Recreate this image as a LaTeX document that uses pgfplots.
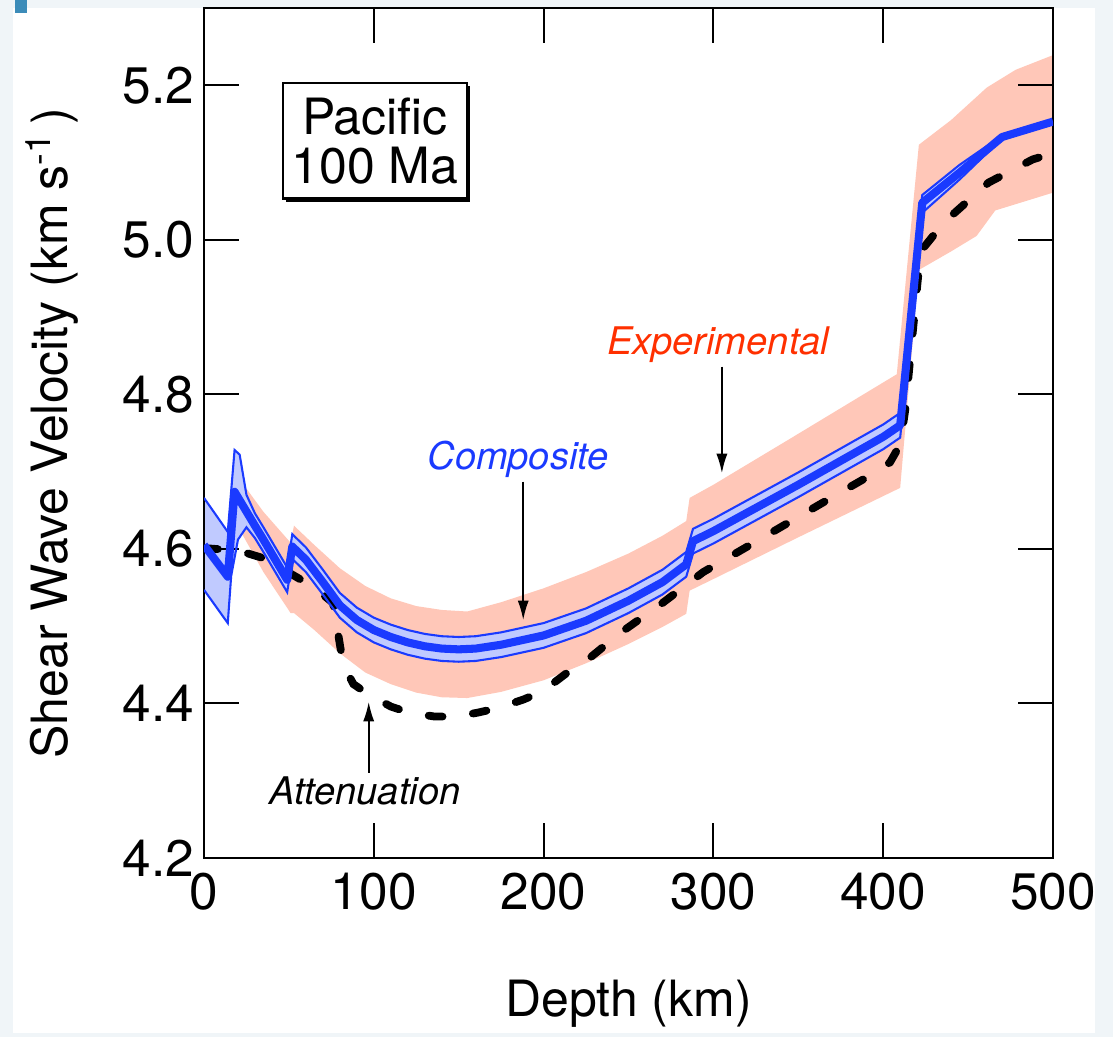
\documentclass[border=0pt]{standalone}
\usepackage{fontspec}
\setmainfont{TeX Gyre Heros}
\usepackage{pgfplots}
\usepackage{pgfplotstable}
\pgfplotsset{compat=1.18}
\usepgfplotslibrary{fillbetween}
\usetikzlibrary{arrows.meta,shadows}
\definecolor{compblue}{RGB}{26,58,255}
\definecolor{bandblue}{RGB}{192,202,255}
\definecolor{expfill}{RGB}{255,199,184}
\definecolor{expred}{RGB}{255,48,0}
\definecolor{bgc}{RGB}{240,245,248}
\definecolor{corner}{RGB}{60,140,185}
\pgfdeclarelayer{bg}
\pgfplotsset{
  layers/mylayers/.define layer set={bg,axis background,axis grid,axis ticks,axis lines,axis tick labels,pre main,main,axis descriptions,axis foreground}{},
  set layers=mylayers,
}

% Composite (centre line)
\pgfplotstableread{
x y
0 4.605
14 4.564
18 4.674
30 4.630
35 4.612
49 4.560
52 4.603
60 4.586
70 4.557
80 4.527
90 4.508
100 4.495
110 4.486
120 4.479
130 4.474
140 4.471
150 4.470
160 4.471
175 4.476
200 4.488
225 4.507
250 4.533
270 4.557
284 4.580
288 4.610
300 4.623
350 4.683
400 4.745
410 4.760
423 5.048
445 5.087
470 5.133
500 5.153
}\compC
% Composite upper bound
\pgfplotstableread{
x y
0 4.666
14 4.622
18 4.728
21 4.722
25 4.670
30 4.646
35 4.628
49 4.576
52 4.619
60 4.602
70 4.573
80 4.543
90 4.524
100 4.511
110 4.502
120 4.495
130 4.490
140 4.487
150 4.486
160 4.487
175 4.492
200 4.504
225 4.523
250 4.549
270 4.573
284 4.596
288 4.626
300 4.639
350 4.699
400 4.761
410 4.776
423 5.058
445 5.097
470 5.135
}\compU
% Composite lower bound
\pgfplotstableread{
x y
0 4.547
14 4.504
16 4.565
20 4.612
25 4.628
30 4.614
35 4.596
49 4.544
52 4.587
60 4.570
70 4.541
80 4.511
90 4.492
100 4.479
110 4.470
120 4.463
130 4.458
140 4.455
150 4.454
160 4.455
175 4.460
200 4.472
225 4.491
250 4.517
270 4.541
284 4.564
288 4.594
300 4.607
350 4.667
400 4.729
410 4.744
423 5.035
445 5.078
470 5.131
}\compL
% Experimental upper bound
\pgfplotstableread{
x y
21 4.690
35 4.648
51 4.608
53 4.630
65 4.605
80 4.575
95 4.552
110 4.536
125 4.526
140 4.521
155 4.519
175 4.531
200 4.549
225 4.570
250 4.594
270 4.617
284 4.636
286 4.666
300 4.683
350 4.749
408 4.826
421 5.123
440 5.155
461 5.197
478 5.220
500 5.239
}\expU
% Experimental lower bound
\pgfplotstableread{
x y
21 4.625
35 4.570
51 4.517
53 4.517
65 4.495
80 4.465
95 4.440
110 4.425
125 4.414
140 4.408
155 4.407
175 4.415
200 4.430
225 4.452
250 4.477
270 4.499
284 4.516
286 4.546
300 4.561
350 4.615
410 4.679
421 4.961
440 4.985
455 5.005
466 5.038
500 5.061
}\expL
% Attenuation
\pgfplotstableread{
x y
0 4.601
20 4.598
38 4.586
51 4.568
65 4.550
76 4.530
79 4.490
82 4.450
88 4.425
96 4.413
110 4.396
121 4.388
136 4.383
148 4.383
161 4.388
173 4.394
188 4.405
199 4.415
214 4.440
225 4.455
245 4.491
270 4.530
294 4.570
320 4.603
345 4.635
370 4.667
397 4.701
404 4.712
410 4.735
413 4.780
422 4.985
436 5.023
462 5.074
488 5.104
500 5.112
}\atten

\begin{document}
\begin{tikzpicture}
\begin{axis}[
  at={(0,0)}, anchor=south west,
  scale only axis,
  width=305.64pt, height=306pt,
  xmin=0, xmax=500, ymin=4.2, ymax=5.3,
  xtick={0,100,200,300,400,500},
  ytick={4.2,4.4,4.6,4.8,5.0,5.2},
  yticklabel style={/pgf/number format/.cd, fixed, fixed zerofill, precision=1},
  /pgf/number format/assume math mode=true,
  tick label style={font=\fontsize{18.5}{20}\selectfont},
  xticklabel style={yshift=-2pt},
  tick align=inside,
  xtick pos=both, ytick pos=both,
  xticklabel pos=bottom, yticklabel pos=left,
  major tick length=12.6pt,
  minor tick num=0,
  every tick/.style={black, line width=0.7pt},
  axis line style={line width=1pt},
  xlabel={Depth (km)},
  ylabel={Shear Wave Velocity (km s\textsuperscript{-1}\,)},
  label style={font=\fontsize{18}{20}\selectfont},
  xlabel style={at={(axis description cs:0.5,-0.172)}, anchor=center},
  ylabel style={at={(axis description cs:-0.179,0.5)}, anchor=center},
  clip=true,
]
% experimental band
\addplot[name path=EU, draw=none, forget plot] table {\expU};
\addplot[name path=EL, draw=none, forget plot] table {\expL};
\addplot[expfill, draw=none] fill between[of=EU and EL];
% attenuation
\addplot[black, line width=2.8pt, line cap=round, dash pattern=on 5pt off 11pt] table {\atten};
% composite band
\addplot[name path=CU, draw=none, forget plot] table {\compU};
\addplot[name path=CL, draw=none, forget plot] table {\compL};
\addplot[bandblue, draw=none, on layer=main] fill between[of=CU and CL];
\addplot[compblue, line width=0.75pt] table {\compU};
\addplot[compblue, line width=0.75pt] table {\compL};
% composite centre
\addplot[compblue, line width=2.9pt, line join=round] table {\compC};

% annotations
\node[draw=black, line width=0.8pt, fill=white, align=center,
      minimum width=66pt, minimum height=41.5pt, inner sep=1pt,
      font=\fontsize{18}{17.5}\selectfont,
      drop shadow={shadow xshift=1.1pt, shadow yshift=-1.1pt, fill=black, opacity=1}]
  at (axis cs:100.7,5.128) {Pacific\\100 Ma};
\node[font=\fontsize{13.7}{15}\selectfont\itshape, text=expred] at (axis cs:302.7,4.864) {Experimental};
\node[font=\fontsize{13.7}{15}\selectfont\itshape, text=compblue] at (axis cs:185,4.716) {Composite};
\node[font=\fontsize{13.7}{15}\selectfont\itshape, text=black] at (axis cs:94.8,4.287) {Attenuation};
\draw[line width=0.6pt, -{Latex[length=7pt,width=4pt]}] (axis cs:305,4.836) -- (axis cs:305,4.698);
\draw[line width=0.6pt, -{Latex[length=7pt,width=4pt]}] (axis cs:188,4.687) -- (axis cs:188,4.508);
\draw[line width=0.6pt, -{Latex[length=7pt,width=4pt]}] (axis cs:97,4.310) -- (axis cs:97,4.402);
\end{axis}
\begin{pgfonlayer}{bg}
\begin{scope}[xshift=-73.44pt, yshift=308.88pt, x=0.36pt, y=-0.36pt]
  \fill[bgc] (0,0) rectangle (1113,1037);
  \fill[white] (13,8) rectangle (1095,1033);
  \fill[corner] (15,0) rectangle (27,13);
\end{scope}
\end{pgfonlayer}
\end{tikzpicture}
\end{document}
